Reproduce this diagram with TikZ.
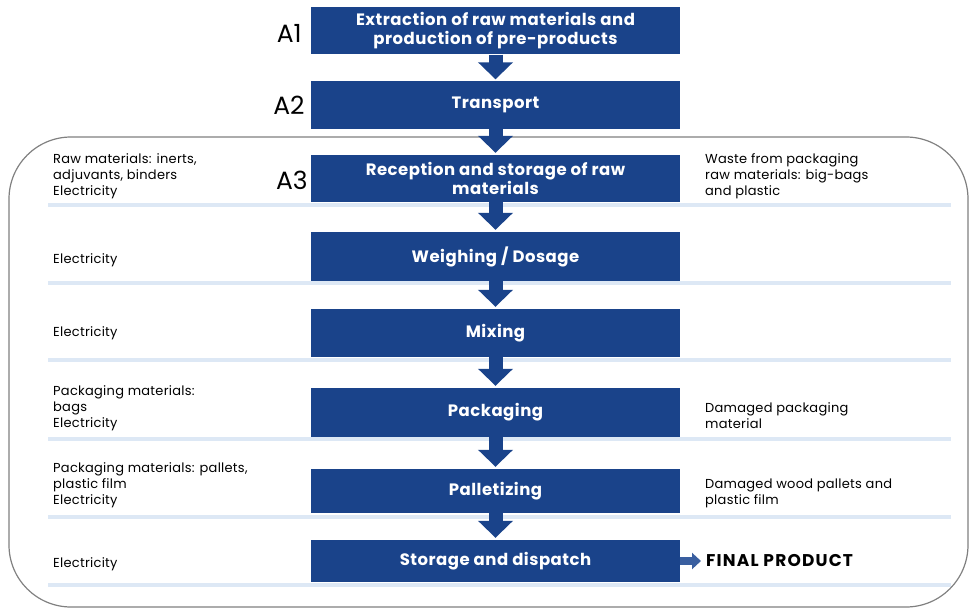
\documentclass[tikz,border=0pt]{standalone}
\usepackage{fontspec}
\setmainfont{Poppins}
\newfontfamily\stagefont[LetterSpace=3]{Poppins}
\newfontfamily\sidefont[LetterSpace=2]{Poppins}
\newfontfamily\finalfont[LetterSpace=7]{Poppins}
\usetikzlibrary{arrows.meta}
\definecolor{stageblue}{RGB}{26,67,138}
\definecolor{outblue}{RGB}{58,95,160}
\definecolor{sepblue}{RGB}{221,232,245}

\begin{document}
\begin{tikzpicture}[x=1pt,y=1pt,node distance=74pt]
\tikzstyle{stage}=[fill=stageblue,text=white,font=\stagefont\fontsize{16.5}{19}\selectfont\bfseries,align=center,minimum width=369pt,minimum height=47pt,inner sep=0pt]
\tikzstyle{side}=[anchor=west,align=left,inner sep=0pt,font=\sidefont\fontsize{13}{16}\selectfont]
\tikzstyle{phase}=[anchor=east,inner sep=0pt,font=\fontsize{25}{25}\selectfont]
\tikzstyle{flow}=[stageblue,line width=14pt,-{Triangle[width=34pt,length=17pt]},shorten >=2pt]
\useasboundingbox (0,0) rectangle (970,-610);
% frame round stage A3
\draw[gray,line width=1.2pt,rounded corners=62pt] (9,-137) rectangle (968,-607);
% separators
\foreach \y in {205,283,360,439,517,585}
  \draw[sepblue,line width=4pt] (48,-\y) -- (951,-\y);
% stages
\node [stage] (ext) at (495.5,-31) {Extraction of raw materials and\\production of pre-products};
\node [stage,below of = ext] (trans) {Transport};
\node [stage,below of = trans,node distance=73.5pt] (recep) {Reception and storage of raw\\materials};
\node [stage,below of = recep,node distance=78pt,minimum height=49pt] (weigh) {Weighing / Dosage};
\node [stage,below of = weigh,node distance=76.5pt,minimum height=48pt] (mix) {Mixing};
\node [stage,below of = mix,node distance=79.5pt,minimum height=49pt] (pack) {Packaging};
\node [stage,below of = pack,node distance=78.5pt,minimum height=44pt] (pallet) {Palletizing};
\node [stage,below of = pallet,node distance=70pt,minimum height=42pt] (store) {Storage and dispatch};
\node [phase] (a1) at ([xshift=-9pt,yshift=-2pt]ext.west) {A1};
\node [phase] (a2) at ([xshift=-6pt]trans.west) {A2};
\node [phase] (a3) at ([xshift=-3pt,yshift=-2pt]recep.west) {A3};
% inputs
\node [side] (in3) at (53,-176) {Raw materials: inerts,\\adjuvants, binders\\Electricity};
\node [side] (inw) at (53,-260) {Electricity};
\node [side] (inm) at (53,-333) {Electricity};
\node [side] (inp) at (53,-408.5) {Packaging materials:\\bags\\Electricity};
\node [side] (inl) at (53,-485) {Packaging materials: pallets,\\plastic film\\Electricity};
\node [side] (ins) at (53,-564) {Electricity};
% outputs
\node [side] (out3) at (705,-176) {Waste from packaging\\raw materials: big-bags\\and plastic};
\node [side] (outp) at (705,-416) {Damaged packaging\\material};
\node [side] (outl) at (705,-493) {Damaged wood pallets and\\plastic film};
\node [side,font=\finalfont\fontsize{17}{19}\selectfont\bfseries] (final) at (706,-561) {FINAL PRODUCT};
% flow
\draw[flow] (ext) -- (trans);
\draw[flow] (trans) -- (recep);
\draw[flow] (recep) -- (weigh);
\draw[flow] (weigh) -- (mix);
\draw[flow] (mix) -- (pack);
\draw[flow] (pack) -- (pallet);
\draw[flow] (pallet) -- (store);
\draw[outblue,line width=8pt,-{Triangle[width=16pt,length=9pt]},shorten >=5pt] (store) -- (final);
\end{tikzpicture}
\end{document}
